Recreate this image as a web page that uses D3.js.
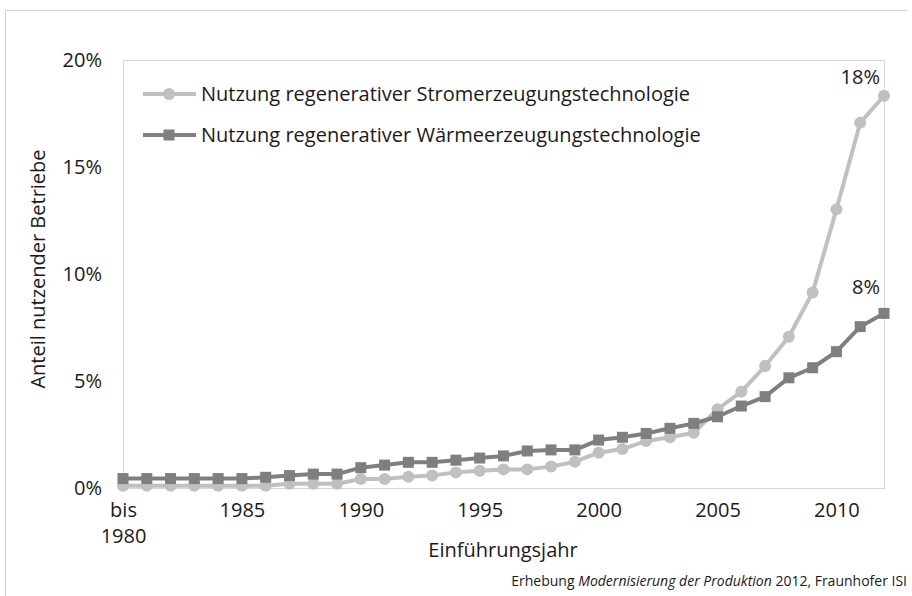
<!DOCTYPE html>
<html>
<head>
<meta charset="utf-8">
<script src="https://cdn.jsdelivr.net/npm/d3@7/dist/d3.min.js"></script>
<style>
    body { margin: 0; background: #fff; }
    svg text { font-family: "Open Sans", "Noto Sans", sans-serif; fill: #1a1a1a; }
</style>
</head>
<body>
<div id="chart"></div>
<script>
// Einführungsjahr, "bis 1980" = alles bis einschließlich 1980
const years = d3.range(1980, 2013);
const tickYears = [1980, 1985, 1990, 1995, 2000, 2005, 2010];
const yTicks = [0, 5, 10, 15, 20];

// Anteil nutzender Betriebe in %
const strom = [0.1, 0.1, 0.1, 0.1, 0.1, 0.1, 0.1, 0.2, 0.2, 0.2,
    0.42, 0.42, 0.53, 0.58, 0.73, 0.81, 0.87, 0.87, 1.0, 1.23,
    1.65, 1.82, 2.2, 2.37, 2.58, 3.68, 4.5, 5.7, 7.07, 9.14,
    13.02, 17.07, 18.33];
const waerme = [0.44, 0.44, 0.44, 0.44, 0.44, 0.44, 0.5, 0.58, 0.65, 0.65,
    0.95, 1.07, 1.2, 1.2, 1.3, 1.4, 1.5, 1.73, 1.78, 1.78,
    2.24, 2.37, 2.55, 2.79, 3.02, 3.33, 3.83, 4.27, 5.15, 5.62,
    6.37, 7.54, 8.16];

const seriesNames = [
    'Nutzung regenerativer Stromerzeugungstechnologie',
    'Nutzung regenerativer Wärmeerzeugungstechnologie'
];
const endLabels = ['18%', '8%'];

(function () {
    const W = 912, H = 596,
        plot = { left: 123, right: 884, top: 60, bottom: 488 },
        FontSize = 20;

    const series = [
        { name: seriesNames[0], values: strom, color: '#c0c0c0', shape: 'circle', label: endLabels[0], labelDy: -12 },
        { name: seriesNames[1], values: waerme, color: '#7f7f7f', shape: 'square', label: endLabels[1], labelDy: -19 }
    ];

    const svg = d3.select('#chart').append('svg')
        .attr('width', W)
        .attr('height', H);

    // Rahmen
    svg.append('path')
        .attr('d', `M5.5,${H}V10.5H907.5`)
        .attr('fill', 'none')
        .attr('stroke', '#d0d0d0');

    const x = d3.scalePoint()
        .domain(years)
        .range([plot.left, plot.right]);
    const y = d3.scaleLinear()
        .domain([0, 20])
        .range([plot.bottom, plot.top]);

    svg.append('rect')
        .attr('x', plot.left + 0.5)
        .attr('y', plot.top + 0.5)
        .attr('width', plot.right - plot.left)
        .attr('height', plot.bottom - plot.top)
        .attr('fill', 'none')
        .attr('stroke', '#d4d4d4');

    // y-Achse
    const yAxis = svg.append('g')
        .attr('transform', `translate(${plot.left},0)`)
        .call(d3.axisLeft(y).tickValues(yTicks).tickSize(0).tickPadding(21)
            .tickFormat(d => d + '%'));
    yAxis.select('.domain').remove();
    yAxis.selectAll('text')
        .style('font-size', FontSize + 'px')
        .attr('fill', '#1a1a1a');

    // x-Achse
    const xAxis = svg.append('g')
        .attr('transform', `translate(0,${plot.bottom})`)
        .call(d3.axisBottom(x).tickValues(tickYears).tickSize(0).tickPadding(15)
            .tickFormat(d => d === 1980 ? '' : d));
    xAxis.select('.domain').remove();
    xAxis.selectAll('text')
        .style('font-size', FontSize + 'px')
        .attr('fill', '#1a1a1a');
    xAxis.selectAll('.tick')
        .filter(d => d === 1980)
        .select('text')
        .call(t => {
            t.append('tspan').attr('x', 0).text('bis');
            t.append('tspan').attr('x', 0).attr('dy', '1.3em').text('1980');
        });

    svg.append('text')
        .attr('x', 503)
        .attr('y', 557)
        .attr('text-anchor', 'middle')
        .style('font-size', FontSize + 'px')
        .text('Einführungsjahr');

    svg.append('text')
        .attr('transform', 'translate(45,269) rotate(-90)')
        .attr('text-anchor', 'middle')
        .style('font-size', FontSize + 'px')
        .text('Anteil nutzender Betriebe');

    // Linien
    const line = d3.line()
        .x((d, i) => x(years[i]))
        .y(d => y(d));

    function marker(sel, s, size) {
        if (s.shape === 'circle') {
            sel.append('circle').attr('r', size / 2 + 0.5).attr('fill', s.color);
        } else {
            sel.append('rect')
                .attr('x', -size / 2).attr('y', -size / 2)
                .attr('width', size).attr('height', size)
                .attr('fill', s.color);
        }
    }

    series.forEach(s => {
        const g = svg.append('g');
        g.append('path')
            .datum(s.values)
            .attr('d', line)
            .attr('fill', 'none')
            .attr('stroke', s.color)
            .attr('stroke-width', 4)
            .attr('stroke-linejoin', 'round');
        g.selectAll('.pt')
            .data(s.values)
            .join('g')
            .attr('class', 'pt')
            .attr('transform', (d, i) => `translate(${x(years[i])},${y(d)})`)
            .each(function () { marker(d3.select(this), s, 11); });

        const last = s.values[s.values.length - 1];
        svg.append('text')
            .attr('x', x(years[years.length - 1]) - 4)
            .attr('y', y(last) + s.labelDy)
            .attr('text-anchor', 'end')
            .style('font-size', FontSize + 'px')
            .text(s.label);
    });

    // Legende
    const legend = svg.append('g')
        .attr('transform', 'translate(143,94)');
    series.forEach((s, i) => {
        const row = legend.append('g').attr('transform', `translate(0,${i * 41})`);
        row.append('line')
            .attr('x1', 0).attr('x2', 53)
            .attr('stroke', s.color)
            .attr('stroke-width', 4);
        const m = row.append('g').attr('transform', 'translate(26,0)');
        marker(m, s, 11);
        row.append('text')
            .attr('x', 58)
            .attr('dy', '0.35em')
            .style('font-size', FontSize + 'px')
            .text(s.name);
    });

    // Quelle
    const src = svg.append('text')
        .attr('x', 907)
        .attr('y', 586)
        .attr('text-anchor', 'end')
        .style('font-size', '14px');
    src.append('tspan').text('Erhebung ');
    src.append('tspan').style('font-style', 'italic').text('Modernisierung der Produktion');
    src.append('tspan').text(' 2012, Fraunhofer ISI');
})();
</script>
</body>
</html>
